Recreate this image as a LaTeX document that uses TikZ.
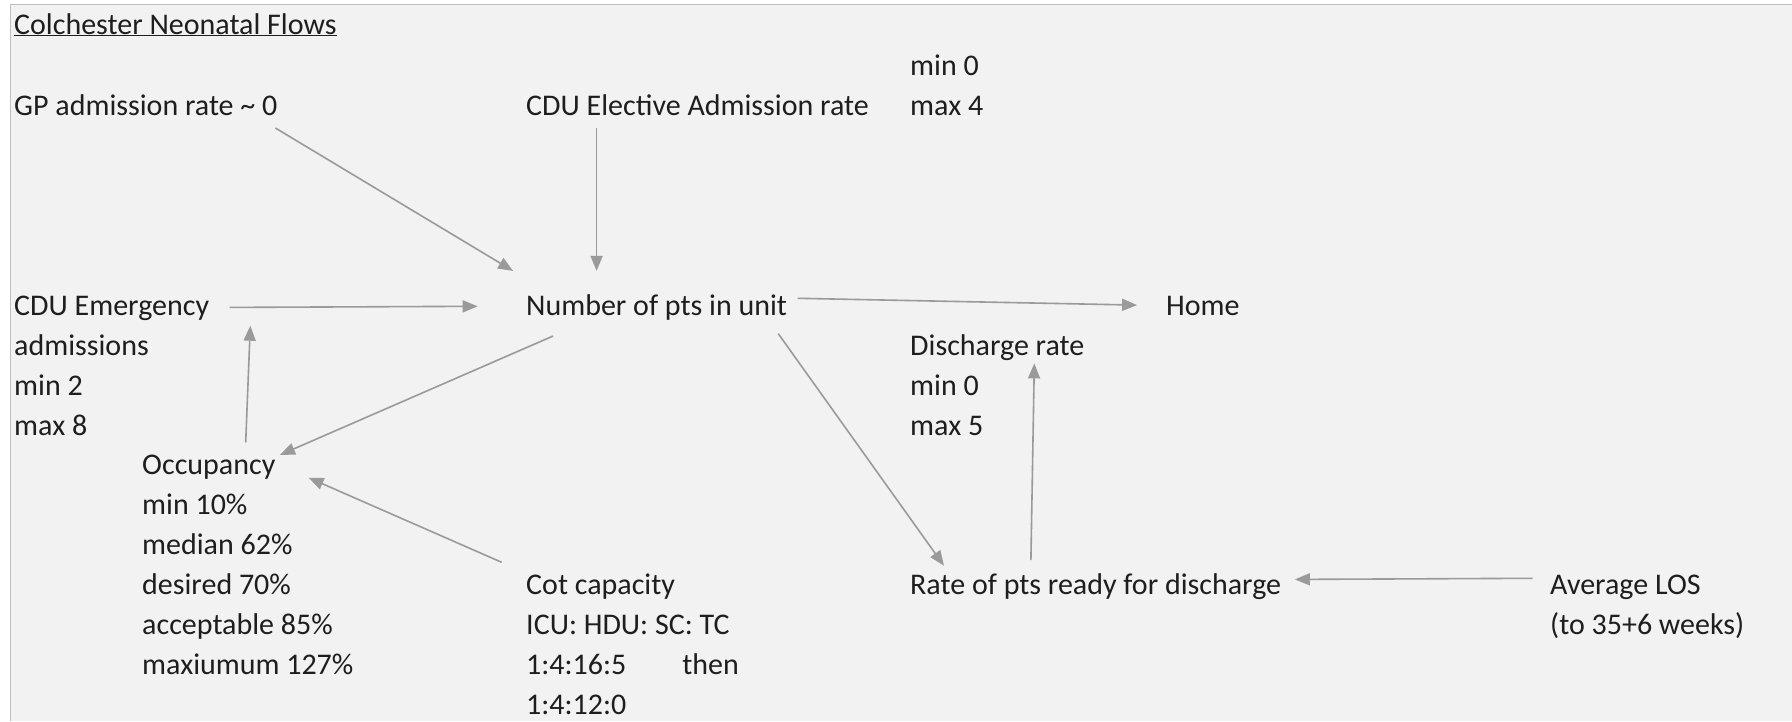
\documentclass[tikz,border=0pt]{standalone}
\usepackage{fontspec}
\setmainfont{Carlito}
\usetikzlibrary{arrows.meta}
\definecolor{bg}{HTML}{F2F2F2}
\definecolor{framec}{HTML}{BFBFBF}
\definecolor{arrc}{HTML}{9A9A9A}
\definecolor{txt}{HTML}{1E1E1E}
\tikzset{
  lbl/.style={anchor=base west, inner sep=0pt, align=left, text=txt, font=\fontsize{30}{40}\selectfont},
  flow/.style={draw=arrc, line width=1.6pt, -{Triangle[length=15pt,width=12pt]}},
}
\begin{document}
\begin{tikzpicture}[x=1pt,y=-1pt]
\useasboundingbox (0,0) rectangle (1792,721);
\fill[bg] (10,4) rectangle (1792,721);
\draw[framec, line width=1pt] (10,721) -- (10,4) -- (1792,4);

% multi-line nodes: base anchor = baseline of the last line
\node[lbl] (title) at (14,34) {\underline{Colchester Neonatal Flows}};
\node[lbl] (gp) at (14,115) {GP admission rate \textasciitilde\ 0};
\node[lbl] (elec) at (526,115) {CDU Elective Admission rate};
\node[lbl] (elecr) at (910,115) {min 0\\max 4};
\node[lbl] (emg) at (14,435) {CDU Emergency\\admissions\\min 2\\max 8};
\node[lbl] (num) at (526,315) {Number of pts in unit};
\node[lbl] (home) at (1166,315) {Home};
\node[lbl] (dis) at (910,435) {Discharge rate\\min 0\\max 5};
\node[lbl] (occ) at (142,674) {Occupancy\\min 10\%\\median 62\%\\desired 70\%\\acceptable 85\%\\maxiumum 127\%};
\node[lbl] (cot) at (526,714) {Cot capacity\\ICU: HDU: SC: TC\\\makebox[156pt][l]{1:4:16:5}then\\1:4:12:0};
\node[lbl] (rate) at (910,594) {Rate of pts ready for discharge};
\node[lbl] (los) at (1550,634) {Average LOS\\(to 35+6 weeks)};

\coordinate (gpS) at (275.4,128);   \coordinate (numA) at (513.1,270.9);
\coordinate (elS) at (596.6,128);   \coordinate (numB) at (596.6,270.9);
\coordinate (emS) at (229.7,307.4); \coordinate (numC) at (477.7,306.3);
\coordinate (numD) at (797.7,298.3); \coordinate (homeW) at (1137.1,305.1);
\coordinate (numE) at (553.1,336);  \coordinate (occA) at (280,454.9);
\coordinate (occB) at (245.7,442.3); \coordinate (emB) at (250.3,325.7);
\coordinate (cotN) at (501.7,562.3); \coordinate (occC) at (308.6,477.7);
\coordinate (numF) at (778.3,333.7); \coordinate (rateA) at (944,565.7);
\coordinate (rateB) at (1030.9,560); \coordinate (disB) at (1034.3,363.4);
\coordinate (losW) at (1532.6,578.3); \coordinate (rateE) at (1294.9,579.4);

\draw[flow] (gpS) -- (numA);
\draw[flow] (elS) -- (numB);
\draw[flow] (emS) -- (numC);
\draw[flow] (numD) -- (homeW);
\draw[flow] (numE) -- (occA);
\draw[flow] (occB) -- (emB);
\draw[flow] (cotN) -- (occC);
\draw[flow] (numF) -- (rateA);
\draw[flow] (rateB) -- (disB);
\draw[flow] (losW) -- (rateE);
\end{tikzpicture}
\end{document}
